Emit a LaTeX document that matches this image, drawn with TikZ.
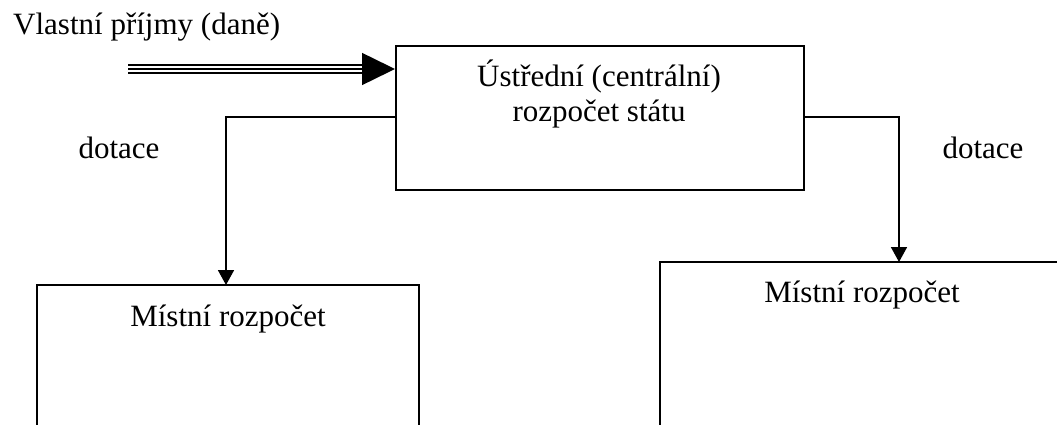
\documentclass[tikz,border=0pt]{standalone}
\usepackage{fontspec}
\setmainfont{Liberation Serif}
\usetikzlibrary{arrows.meta}
\begin{document}
\begin{tikzpicture}[x=1pt,y=-1pt,
  lbl/.style={inner sep=0pt, anchor=base, font=\fontsize{31}{35}\selectfont},
  boxline/.style={line width=1.8pt},
  conn/.style={line width=1.8pt, -{Triangle[length=15pt,width=16pt]}},
  thin3/.style={line width=1.5pt}]
\useasboundingbox (0,0) rectangle (1057,425);
% central box
\node[draw, boxline, minimum width=408pt, minimum height=144pt, anchor=north west, inner sep=0pt] (c) at (395,45) {};
\node[lbl] (c1) at (599,87) {Ústřední (centrální)};
\node[lbl] (c2) at (599,122) {rozpočet státu};
% local budget boxes (open at bottom)
\coordinate (lt) at (226,285);
\coordinate (rt) at (899,262);
\draw[boxline] (37,430) -- (37,285) -- (419,285) -- (419,430);
\draw[boxline] (660,430) -- (660,262) -- (1070,262);
\node[lbl] (l1) at (228,326) {Místní rozpočet};
\node[lbl] (r1) at (862,302) {Místní rozpočet};
% labels
\node[lbl, anchor=base west] (v) at (13,35) {Vlastní příjmy (daně)};
\node[lbl] (d1) at (119,158) {dotace};
\node[lbl] (d2) at (983,158) {dotace};
% triple arrow
\coordinate (s) at (128,69);
\coordinate (hb) at (365,69);
\draw[thin3] ([yshift=-4pt]s) -- ([yshift=-4pt]hb);
\draw[thin3] ([yshift=4pt]s) -- ([yshift=4pt]hb);
\draw[thin3, -{Triangle[length=33pt,width=32pt]}] (s) -- (s -| c.west);
% connectors
\draw[conn] (c.west |- 0,117) -| (lt);
\draw[conn] (c.east |- 0,117) -| (rt);
\end{tikzpicture}
\end{document}
